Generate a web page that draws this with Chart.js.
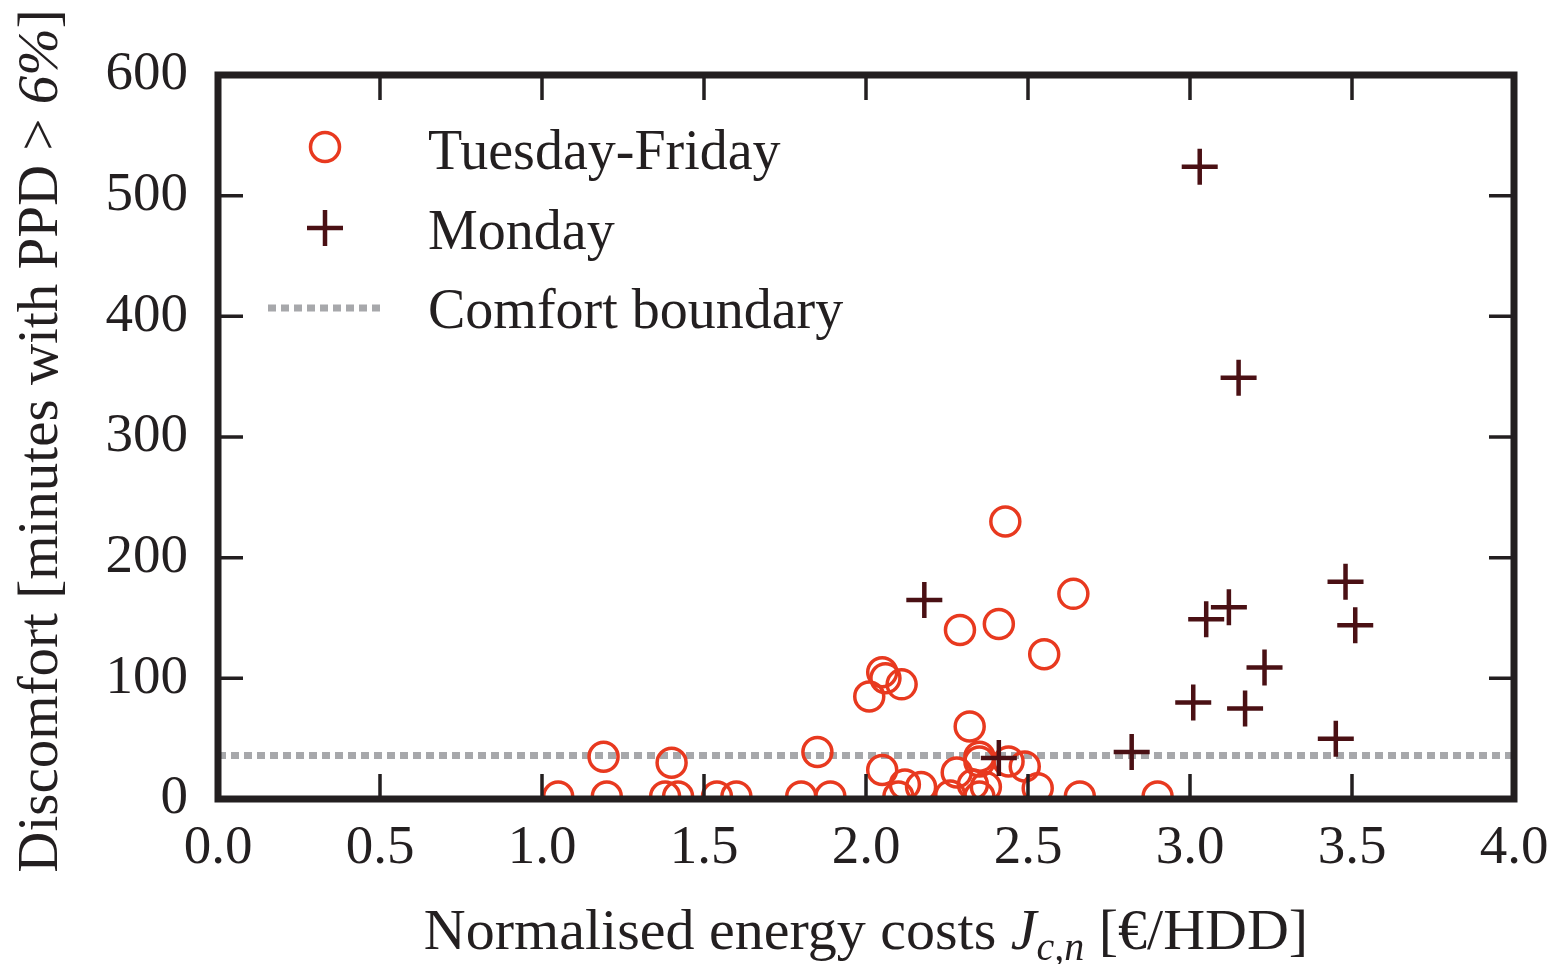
<!DOCTYPE html>
<html>
<head>
<meta charset="utf-8">
<script src="https://cdn.jsdelivr.net/npm/chart.js@4.4.1/dist/chart.umd.min.js"></script>
<style>
  body { margin: 0; background: #fff; }
  canvas { display: block; }
</style>
</head>
<body>
<canvas id="discomfort" width="1556" height="964"></canvas>
<script>
// Tuesday-Friday days
let tueFriX = [1.05, 1.19, 1.20, 1.40, 1.38, 1.42, 1.54, 1.60, 1.85, 1.80, 1.89,
  2.01, 2.05, 2.06, 2.11, 2.05, 2.10, 2.17, 2.26, 2.28, 2.29, 2.32, 2.33, 2.35,
  2.35, 2.37, 2.41, 2.43, 2.44, 2.49, 2.53, 2.55, 2.64, 2.66, 2.90, 2.35, 2.12];
let tueFriY = [2, 35, 2, 30, 2, 2, 2, 2, 39, 2, 2,
  85, 105, 100, 95, 24, 2, 10, 3, 22, 140, 60, 12, 31,
  35, 10, 145, 230, 31, 27, 9, 120, 170, 2, 2, 2, 12];

// Mondays
let mondayX = [3.03, 3.15, 2.18, 2.41, 2.82, 3.01, 3.05, 3.12, 3.23, 3.17, 3.48, 3.51, 3.45];
let mondayY = [524, 349, 165, 34, 39, 80, 149, 159, 109, 75, 180, 144, 50];

// comfort boundary
let boundaryX = [0, 4];
let boundaryY = [36, 36];

let ink = "#231f20";
let red = "#e8391f";
let maroon = "#4a1014";
let gray = "#a7a8ab";
let family = "'Liberation Serif', 'Times New Roman', serif";

Chart.defaults.font.family = family;
Chart.defaults.color = ink;

function toPoints(xs, ys) {
  return xs.map(function (x, i) { return { x: x, y: ys[i] }; });
}

// inward ticks, frame, legend and axis titles
const decorations = {
  id: "decorations",
  afterDraw(chart) {
    const ctx = chart.ctx;
    const a = chart.chartArea;
    const xs = chart.scales.x;
    const ys = chart.scales.y;
    ctx.save();
    ctx.strokeStyle = ink;
    ctx.lineWidth = 3.5;
    ctx.beginPath();
    xs.ticks.forEach(function (t) {
      const px = xs.getPixelForValue(t.value);
      ctx.moveTo(px, a.bottom); ctx.lineTo(px, a.bottom - 25);
      ctx.moveTo(px, a.top); ctx.lineTo(px, a.top + 25);
    });
    ys.ticks.forEach(function (t) {
      const py = ys.getPixelForValue(t.value);
      ctx.moveTo(a.left, py); ctx.lineTo(a.left + 25, py);
      ctx.moveTo(a.right, py); ctx.lineTo(a.right - 25, py);
    });
    ctx.stroke();
    ctx.lineWidth = 7;
    ctx.strokeRect(a.left, a.top, a.right - a.left, a.bottom - a.top);

    // legend
    const sx = a.left + 107;
    const tx = a.left + 210;
    const helpers = Chart.helpers;
    ctx.fillStyle = "rgba(0,0,0,0)";
    ctx.strokeStyle = red;
    ctx.lineWidth = 3.5;
    helpers.drawPoint(ctx, { pointStyle: "circle", radius: 14.5, borderWidth: 3.5 }, sx, a.top + 72);
    ctx.strokeStyle = maroon;
    ctx.lineWidth = 4.5;
    helpers.drawPoint(ctx, { pointStyle: "cross", radius: 18, borderWidth: 4.5 }, sx, a.top + 153);
    ctx.strokeStyle = gray;
    ctx.lineWidth = 7;
    ctx.setLineDash([8, 5]);
    ctx.beginPath();
    ctx.moveTo(sx - 57, a.top + 233);
    ctx.lineTo(sx + 58, a.top + 233);
    ctx.stroke();
    ctx.setLineDash([]);
    ctx.fillStyle = ink;
    ctx.font = "56px " + family;
    ctx.textAlign = "left";
    ctx.textBaseline = "alphabetic";
    ctx.fillText("Tuesday-Friday", tx, a.top + 94);
    ctx.fillText("Monday", tx, a.top + 174);
    ctx.fillText("Comfort boundary", tx, a.top + 253);

    // x title with italic J and subscript
    const parts = [
      ["Normalised energy costs ", "58px " + family, 0],
      ["J", "italic 58px " + family, 0],
      ["c,n", "italic 40px " + family, 11],
      [" [€/HDD]", "58px " + family, 0]
    ];
    let total = 0;
    parts.forEach(function (p) { ctx.font = p[1]; total += ctx.measureText(p[0]).width; });
    let cx = (a.left + a.right) / 2 - total / 2;
    parts.forEach(function (p) {
      ctx.font = p[1];
      ctx.fillText(p[0], cx, 949 + p[2]);
      cx += ctx.measureText(p[0]).width;
    });

    // y title, rotated
    const yparts = [
      ["Discomfort [minutes with PPD > ", "57px " + family],
      ["6%", "italic 57px " + family],
      ["]", "57px " + family]
    ];
    total = 0;
    yparts.forEach(function (p) { ctx.font = p[1]; total += ctx.measureText(p[0]).width; });
    ctx.translate(57, (a.top + a.bottom) / 2 + 4);
    ctx.rotate(-Math.PI / 2);
    cx = -total / 2;
    yparts.forEach(function (p) {
      ctx.font = p[1];
      ctx.fillText(p[0], cx, 0);
      cx += ctx.measureText(p[0]).width;
    });
    ctx.restore();
  }
};

new Chart(document.getElementById("discomfort"), {
  type: "scatter",
  data: {
    datasets: [
      {
        label: "Monday",
        data: toPoints(mondayX, mondayY),
        pointStyle: "cross",
        pointRadius: 18,
        pointHoverRadius: 18,
        borderWidth: 4.5,
        borderColor: maroon,
        backgroundColor: maroon,
      },
      {
        label: "Tuesday-Friday",
        data: toPoints(tueFriX, tueFriY),
        pointStyle: "circle",
        pointRadius: 14.5,
        pointHoverRadius: 14.5,
        borderWidth: 3.5,
        borderColor: red,
        backgroundColor: "rgba(0,0,0,0)",
      },
      {
        label: "Comfort boundary",
        type: "line",
        data: toPoints(boundaryX, boundaryY),
        borderColor: gray,
        borderWidth: 7,
        borderDash: [8, 5],
        pointRadius: 0,
        fill: false,
      },
    ],
  },
  options: {
    responsive: false,
    animation: false,
    devicePixelRatio: 1,
    layout: { padding: { top: 75, right: 42, left: 0, bottom: 0 } },
    plugins: { legend: { display: false }, tooltip: { enabled: false } },
    scales: {
      x: {
        type: "linear",
        min: 0,
        max: 4,
        afterFit: function (s) {
          s.height = 165;
          s.paddingRight = 0;
          s.paddingLeft = 0;
        },
        grid: { display: true, drawOnChartArea: false, drawTicks: false },
        border: { display: false },
        ticks: {
          stepSize: 0.5,
          padding: 17,
          color: ink,
          font: { size: 55 },
          callback: function (v) { return v.toFixed(1); },
        },
      },
      y: {
        min: 0,
        max: 600,
        afterFit: function (s) {
          s.width = 218;
          s.paddingTop = 0;
          s.paddingBottom = 0;
        },
        grid: { display: true, drawOnChartArea: false, drawTicks: false },
        border: { display: false },
        ticks: { stepSize: 100, padding: 30, color: ink, font: { size: 55 } },
      },
    },
  },
  plugins: [decorations],
});
</script>
</body>
</html>
